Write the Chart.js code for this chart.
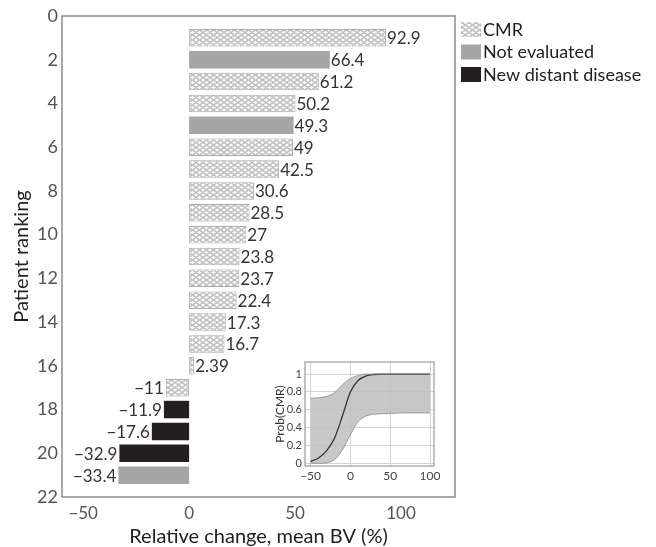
<!DOCTYPE html>
<html>
<head>
<meta charset="utf-8">
<script src="https://cdn.jsdelivr.net/npm/chart.js@4.4.1/dist/chart.umd.min.js"></script>
<style>
  html, body { margin: 0; padding: 0; background: #fff; }
  #wrap { position: relative; width: 656px; height: 547px; }
  #mainChart { position: absolute; left: 0; top: 0; }
  #insetChart { position: absolute; left: 270px; top: 352px; background: #fff; }
</style>
</head>
<body>
<div id="wrap">
  <canvas id="mainChart" width="656" height="547"></canvas>
  <canvas id="insetChart" width="175" height="135"></canvas>
</div>
<script>
// main chart data
const ranks = [1, 2, 3, 4, 5, 6, 7, 8, 9, 10, 11, 12, 13, 14, 15, 16, 17, 18, 19, 20, 21];
const changes = [92.9, 66.4, 61.2, 50.2, 49.3, 49, 42.5, 30.6, 28.5, 27, 23.8, 23.7, 22.4, 17.3, 16.7, 2.39, -11, -11.9, -17.6, -32.9, -33.4];
const response = [
  "CMR", "Not evaluated", "CMR", "CMR", "Not evaluated", "CMR", "CMR", "CMR", "CMR", "CMR", "CMR",
  "CMR", "CMR", "CMR", "CMR", "CMR", "CMR", "New distant disease", "New distant disease",
  "New distant disease", "Not evaluated"
];
const groups = ["CMR", "Not evaluated", "New distant disease"];
const rankTicks = [0, 2, 4, 6, 8, 10, 12, 14, 16, 18, 20, 22];
const changeTicks = [-50, 0, 50, 100];

// inset data
const insetX = [-50, -40, -30, -20, -10, 0, 10, 20, 30, 40, 50, 75, 100];
const probMean = [0.02, 0.06, 0.14, 0.28, 0.53, 0.80, 0.93, 0.98, 0.995, 1, 1, 1, 1];
const probLower = [0, 0, 0.005, 0.04, 0.15, 0.32, 0.47, 0.53, 0.55, 0.555, 0.56, 0.565, 0.565];
const probUpper = [0.73, 0.735, 0.75, 0.79, 0.88, 0.95, 0.985, 1, 1, 1, 1, 1, 1];
const probTicks = [0, 0.2, 0.4, 0.6, 0.8, 1];
const insetXTicks = [-50, 0, 50, 100];

const FONT = "Lato, 'Open Sans', sans-serif";

// honeycomb fill for CMR bars
function makeHoneycomb(ctx) {
  const c = document.createElement("canvas");
  c.width = 7; c.height = 5;
  const g = c.getContext("2d");
  g.fillStyle = "#fff";
  g.fillRect(0, 0, 7, 5);
  g.strokeStyle = "#b4b4b4";
  g.lineWidth = 0.8;
  [[0, 0], [7, 0], [0, 5], [7, 5], [3.5, 2.5]].forEach(([cx, cy]) => {
    g.beginPath();
    g.ellipse(cx, cy, 3.1, 2.1, 0, 0, Math.PI * 2);
    g.stroke();
  });
  return ctx.createPattern(c, "repeat");
}

const mainCtx = document.getElementById("mainChart").getContext("2d");
const honeycomb = makeHoneycomb(mainCtx);

const groupStyle = {
  "CMR": { bg: honeycomb, border: "#ababab", width: 1 },
  "Not evaluated": { bg: "#a6a6a6", border: "#a6a6a6", width: 0 },
  "New distant disease": { bg: "#231f20", border: "#231f20", width: 0 }
};

const fmt = v => String(v).replace("-", "\u2212");

// value labels at bar ends
const valueLabels = {
  id: "valueLabels",
  afterDatasetsDraw(chart) {
    const ctx = chart.ctx;
    ctx.save();
    ctx.font = "17px " + FONT;
    ctx.fillStyle = "#333";
    ctx.textBaseline = "middle";
    chart.data.datasets.forEach((ds, i) => {
      chart.getDatasetMeta(i).data.forEach((bar, j) => {
        const v = ds.data[j].x;
        const neg = v < 0;
        ctx.textAlign = neg ? "right" : "left";
        ctx.fillText(fmt(v), bar.x + (neg ? -2 : 1), bar.y + 1);
      });
    });
    ctx.restore();
  }
};

// box round the plot area
const frame = {
  id: "frame",
  afterDraw(chart, args, opts) {
    const { left, top, right, bottom } = chart.chartArea;
    const ctx = chart.ctx;
    ctx.save();
    ctx.strokeStyle = opts.color;
    ctx.lineWidth = opts.width;
    ctx.strokeRect(left, top, right - left, bottom - top);
    ctx.restore();
  }
};

// legend drawn to the right of the plot
const sideLegend = {
  id: "sideLegend",
  afterDraw(chart) {
    const ctx = chart.ctx;
    ctx.save();
    ctx.font = "18px " + FONT;
    ctx.textBaseline = "middle";
    ctx.textAlign = "left";
    groups.forEach((name, i) => {
      const st = groupStyle[name];
      const y = 22 + i * 22.5;
      ctx.fillStyle = st.bg;
      ctx.fillRect(461, y, 20, 15);
      ctx.fillStyle = "#222";
      ctx.fillText(name, 483, y + 8);
    });
    ctx.restore();
  }
};

new Chart(mainCtx, {
  type: "bar",
  data: {
    datasets: groups.map(name => ({
      label: name,
      data: ranks
        .map((r, i) => response[i] === name ? { x: changes[i], y: r } : null)
        .filter(Boolean),
      backgroundColor: groupStyle[name].bg,
      borderColor: groupStyle[name].border,
      borderWidth: groupStyle[name].width,
      borderSkipped: false,
      grouped: false,
      categoryPercentage: 1,
      barPercentage: 0.8
    }))
  },
  options: {
    indexAxis: "y",
    responsive: false,
    animation: false,
    layout: { padding: { left: 8, right: 201, top: 16, bottom: 0 } },
    plugins: {
      legend: { display: false },
      tooltip: { enabled: false },
      frame: { color: "#8c8c8c", width: 1.5 }
    },
    scales: {
      x: {
        type: "linear",
        min: -60,
        max: 125.5,
        afterBuildTicks: s => { s.ticks = changeTicks.map(v => ({ value: v })); },
        afterFit: s => { s.height = 50; },
        grid: { display: false, drawTicks: false },
        border: { display: false },
        ticks: { font: { size: 17, family: FONT }, color: "#555", padding: 6, callback: v => fmt(v) },
        title: {
          display: true, text: "Relative change, mean BV (%)",
          font: { size: 20, family: FONT, lineHeight: 1 }, color: "#222", padding: { top: 0, bottom: 0 }
        }
      },
      y: {
        type: "linear",
        reverse: true,
        offset: false,
        min: 0,
        max: 22,
        afterBuildTicks: s => { s.ticks = rankTicks.map(v => ({ value: v })); },
        afterFit: s => { s.width = 54; },
        grid: { display: false, drawTicks: false },
        border: { display: false },
        ticks: { font: { size: 18, family: FONT }, color: "#555", padding: 4 },
        title: { display: true, text: "Patient ranking", font: { size: 20, family: FONT }, color: "#222", padding: { top: 2, bottom: 2 } }
      }
    }
  },
  plugins: [valueLabels, frame, sideLegend]
});

// inset: probability of CMR
const insetPts = arr => insetX.map((x, i) => ({ x, y: arr[i] }));

new Chart(document.getElementById("insetChart"), {
  type: "line",
  data: {
    datasets: [
      {
        data: insetPts(probUpper),
        borderColor: "#8a8a8a",
        borderWidth: 0.8,
        backgroundColor: "rgba(190,190,190,0.85)",
        fill: "+1",
        pointRadius: 0,
        cubicInterpolationMode: "monotone"
      },
      {
        data: insetPts(probLower),
        borderColor: "#8a8a8a",
        borderWidth: 0.8,
        fill: false,
        pointRadius: 0,
        cubicInterpolationMode: "monotone"
      },
      {
        data: insetPts(probMean),
        borderColor: "#333",
        borderWidth: 1.3,
        fill: false,
        pointRadius: 0,
        cubicInterpolationMode: "monotone"
      }
    ]
  },
  options: {
    responsive: false,
    animation: false,
    layout: { padding: { left: 3, right: 11, top: 10, bottom: 0 } },
    plugins: {
      legend: { display: false },
      tooltip: { enabled: false },
      filler: { drawTime: "beforeDatasetsDraw" },
      frame: { color: "#9a9a9a", width: 1.2 }
    },
    scales: {
      x: {
        type: "linear",
        min: -57,
        max: 105,
        afterBuildTicks: s => { s.ticks = insetXTicks.map(v => ({ value: v })); },
        afterFit: s => { s.height = 21; },
        grid: { color: "#d4d4d4", drawTicks: false },
        border: { display: false },
        ticks: { font: { size: 12, family: FONT }, color: "#444", padding: 3, callback: v => fmt(v) }
      },
      y: {
        type: "linear",
        min: -0.03,
        max: 1.135,
        afterBuildTicks: s => { s.ticks = probTicks.map(v => ({ value: v })); },
        afterFit: s => { s.width = 32; },
        grid: { color: "#d4d4d4", drawTicks: false },
        border: { display: false },
        ticks: { font: { size: 11, family: FONT }, color: "#444", padding: 3, callback: v => String(v) },
        title: { display: true, text: "Prob(CMR)", font: { size: 12, family: FONT }, color: "#333", padding: { top: 0, bottom: 2 } }
      }
    }
  },
  plugins: [frame]
});
</script>
</body>
</html>
